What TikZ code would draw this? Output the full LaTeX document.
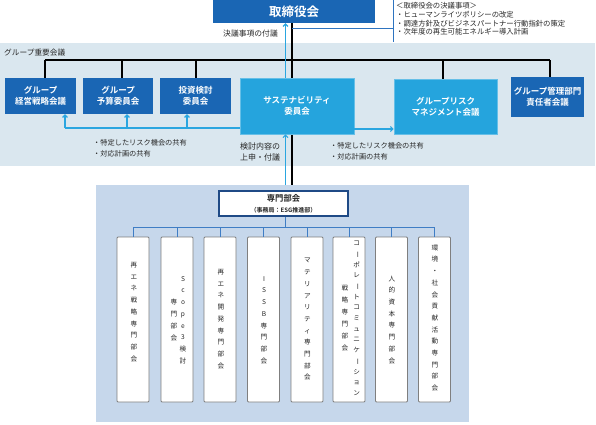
\documentclass[tikz,border=0pt]{standalone}
\usepackage{fontspec}
\setmainfont{Noto Sans CJK JP}[BoldFont={Noto Sans CJK JP Bold}]
\usetikzlibrary{arrows.meta}
\definecolor{dkblue}{HTML}{1A66B4}
\definecolor{ltblue}{HTML}{25A4DD}
\definecolor{lnblue}{HTML}{2AA6E0}
\definecolor{panelA}{HTML}{DAE7EF}
\definecolor{panelB}{HTML}{C6D7EB}
\definecolor{brblue}{HTML}{2E74C0}
\definecolor{trblue}{HTML}{3F7DC4}
\definecolor{navy}{HTML}{1F4A86}
\definecolor{txt}{HTML}{262626}
\definecolor{gborder}{HTML}{7F7F7F}
\pgfdeclarelayer{back}\pgfdeclarelayer{mid}\pgfsetlayers{back,mid,main}
\makeatletter
\newcommand\vstack[2][11.7pt]{\vbox{\baselineskip=#1\lineskiplimit=-20pt\lineskip=0pt\@tfor\vs@c:=#2\do{\hbox to 9pt{\hss\vs@c\hss}}}}
\makeatother
\newcommand\vbar{\rotatebox[origin=c]{-90}{ー}}
\begin{document}
\begin{tikzpicture}[x=1pt,y=-1pt,
  dkbox/.style={fill=dkblue,text=white,font=\fontsize{8.5}{11}\selectfont\bfseries,align=center,inner sep=0pt},
  ltbox/.style={fill=ltblue,draw=ltblue!70!white,line width=0.6pt,text=white,font=\fontsize{8.5}{11.5}\selectfont\bfseries,align=center,inner sep=0pt},
  tallbox/.style={draw=gborder,fill=white,line width=0.8pt,rounded corners=1pt,minimum width=32pt,minimum height=165pt,inner sep=0pt},
  vt/.style={font=\fontsize{6.6}{8}\selectfont,text=txt,inner sep=0pt},
  note/.style={font=\fontsize{7.2}{11}\selectfont,text=txt,align=left,inner sep=0pt},
  kline/.style={draw=black,line width=1.1pt},
  bline/.style={draw=lnblue,line width=1.1pt},
  tline/.style={draw=trblue,line width=1pt},
  arr/.style={-{Straight Barb[length=2.5pt,width=5pt]}}]
\useasboundingbox (0,0) rectangle (596,424);

% panels
\begin{pgfonlayer}{back}
\node[fill=panelA,minimum width=595pt,minimum height=123pt,inner sep=0pt,anchor=north west] (grp) at (0,43) {};
\node[fill=panelB,minimum width=373pt,minimum height=237pt,inner sep=0pt,anchor=north west] (low) at (96,185) {};
\end{pgfonlayer}
\node[anchor=west,font=\fontsize{7.7}{9}\selectfont,text=txt,inner sep=0pt] (grpl) at (4,53) {グループ重要会議};

% board
\node[dkbox,minimum width=162pt,minimum height=23pt,font=\fontsize{12.5}{14}\selectfont\bfseries] (board) at (294,11.5) {取締役会};
\node[anchor=west,font=\fontsize{7.35}{8.8}\selectfont,text=txt,align=left,inner sep=0pt] (res) at (396,19)
 {＜取締役会の決議事項＞\\・ヒューマンライツポリシーの改定\\・調達方針及びビジネスパートナー行動指針の策定\\・次年度の再生可能エネルギー導入計画};
\node[font=\fontsize{7.8}{9}\selectfont,text=txt,inner sep=0pt] (fugi) at (250.5,34) {決議事項の付議};

% group boxes
\node[dkbox,minimum width=71pt,minimum height=36pt] (g1) at (40.5,96) {グループ\\経営戦略会議};
\node[dkbox,minimum width=70pt,minimum height=36pt] (g2) at (118,96) {グループ\\予算委員会};
\node[dkbox,minimum width=71pt,minimum height=36pt] (g3) at (195.5,96) {投資検討\\委員会};
\node[ltbox,minimum width=114pt,minimum height=56pt] (sus) at (297,106) {サステナビリティ\\委員会};
\node[ltbox,minimum width=103pt,minimum height=55pt] (risk) at (445.5,106.5) {グループリスク\\マネジメント会議};
\node[dkbox,minimum width=73pt,minimum height=40pt] (mgmt) at (547.5,97) {グループ管理部門\\責任者会議};

\node[note,anchor=west] (n1) at (93,148.5) {・特定したリスク機会の共有\\・対応計画の共有};
\node[note,anchor=west] (n2) at (330,151.5) {・特定したリスク機会の共有\\・対応計画の共有};
\node[note,anchor=west,font=\fontsize{8}{11}\selectfont] (n3) at (240,151.5) {検討内容の\\上申・付議};

% lower
\node[draw=navy,line width=1.3pt,fill=white,minimum width=129pt,minimum height=25pt,inner sep=0pt,align=center,text=txt] (sen) at (283.5,203.5)
 {\fontsize{8.3}{9}\selectfont\bfseries 専門部会\\[-1pt]\fontsize{6}{7}\selectfont\bfseries （事務局：ESG推進部）};

\node[tallbox] (v1) at (133,319.5) {};
\node[tallbox] (v2) at (177,319.5) {};
\node[tallbox] (v3) at (220,319.5) {};
\node[tallbox] (v4) at (263.5,319.5) {};
\node[tallbox] (v5) at (307,319.5) {};
\node[tallbox] (v6) at (349,319.5) {};
\node[tallbox] (v7) at (391.5,319.5) {};
\node[tallbox] (v8) at (434.5,319.5) {};

\node[vt] (t1) at (134,312) {\vstack{再エネ戦略専門部会}};
\node[vt] (t2a) at (183,320) {\vstack{Scope3検討}};
\node[vt] (t2b) at (174,320) {\vstack{専門部会}};
\node[vt] (t3) at (221,319) {\vstack{再エネ開発専門部会}};
\node[vt] (t4) at (264,320) {\vstack{ISSB専門部会}};
\node[vt] (t5) at (307.5,319.5) {\vstack{マテリアリティ専門部会}};
\node[vt] (t6a) at (356.7,318.3) {\vstack[10.7pt]{コ\vbar ポレ\vbar トコミュニケ\vbar ション}};
\node[vt] (t6b) at (345,318.3) {\vstack[12pt]{戦略専門部会}};
\node[vt] (t7) at (392,319.7) {\vstack{人的資本専門部会}};
\node[vt] (t8) at (435,318) {\vstack{環境・社会貢献活動専門部会}};

% coordinates
\coordinate (tk) at (292,60);
\coordinate (busL) at (45,60);
\coordinate (busR) at (550,60);
\coordinate (d2) at (122,60);
\coordinate (d3) at (196,60);
\coordinate (d4) at (443,60);
\coordinate (bu) at (285.5,0);
\coordinate (a1) at (65,128);
\coordinate (a2) at (127,128);
\coordinate (a3) at (187,128);
\coordinate (rc) at (0,129);
\coordinate (bs) at (292,28);
\coordinate (bc) at (393,28);
\coordinate (bt) at (393,0);
\coordinate (bb) at (393,42);
\coordinate (tj) at (285,227);

% black trunk behind boxes
\begin{pgfonlayer}{mid}
\draw[kline] (board.south -| tk) -- (low.north -| tk);
\end{pgfonlayer}
\draw[kline] (busL) -- (busR);
\draw[kline] (busL) -- (g1.north -| busL);
\draw[kline] (d2) -- (g2.north -| d2);
\draw[kline] (d3) -- (g3.north -| d3);
\draw[kline] (d4) -- (risk.north -| d4);
\draw[kline] (busR) -- (mgmt.north -| busR);

% bracket
\draw[brblue,line width=1pt] (bs) -- (bc);
\draw[brblue,line width=1pt] (bt) -- (bb);

% light blue connectors
\draw[bline,arr] (low.north -| bu) -- (sus.south -| bu);
\draw[bline,arr] (sus.north -| bu) -- (board.south -| bu);
\draw[bline] (sus.west |- a1) -- (a1);
\draw[bline,arr] (a1) -- (g1.south -| a1);
\draw[bline,arr] (a2) -- (g2.south -| a2);
\draw[bline,arr] (a3) -- (g3.south -| a3);
\draw[bline,arr] (sus.east |- rc) -- (risk.west |- rc);

% tree
\draw[tline] (sen.south -| tj) -- (tj);
\draw[tline] (v1.north |- tj) -- (v8.north |- tj);
\foreach \i in {1,...,8} \draw[tline] (v\i.north |- tj) -- (v\i.north);
\end{tikzpicture}
\end{document}
